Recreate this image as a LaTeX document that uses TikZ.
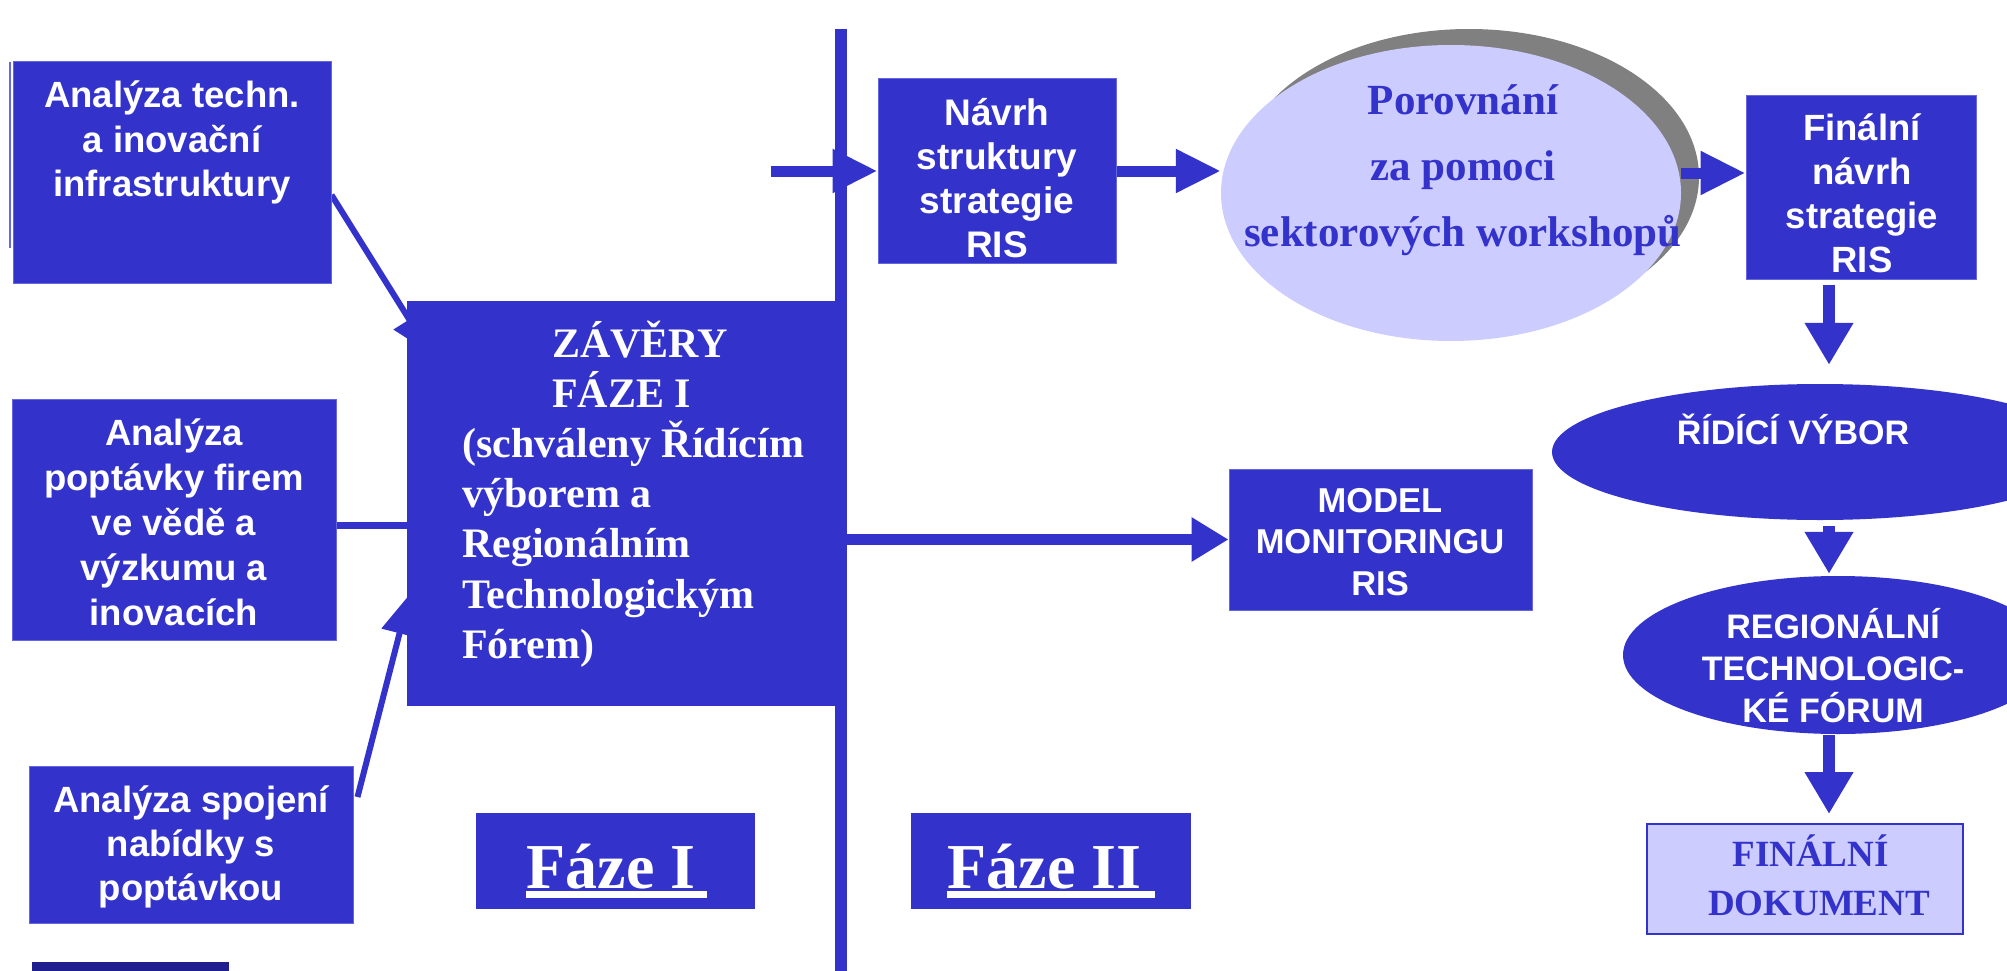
\documentclass[tikz,border=0pt]{standalone}
\usepackage{fontspec}
\setmainfont{Liberation Serif}
\setsansfont{Liberation Sans}
\usepackage{graphicx}
\usetikzlibrary{arrows.meta,calc,shapes.geometric}
\definecolor{myblue}{HTML}{3333CC}
\definecolor{lightb}{HTML}{CCCCFF}
\definecolor{edgeb}{HTML}{6666DD}
\definecolor{shadowg}{HTML}{808080}
\definecolor{darknavy}{HTML}{1F1F8F}
\newcommand\setfs[2]{\fontsize{#1}{#2}\selectfont}
\pgfdeclarelayer{bg}
\pgfsetlayers{bg,main}
\begin{document}
\begin{tikzpicture}[x=1pt,y=-1pt,
  bluebox/.style={rectangle,fill=myblue,draw=edgeb,line width=1pt,inner sep=0pt},
  stxt/.style={text=white,align=flush center,inner sep=0pt,anchor=base},
  rtxt/.style={align=flush center,inner sep=0pt,anchor=base},
  thinline/.style={draw=myblue,line width=6pt},
  barrow/.style={draw=myblue,line width=11pt,-{Triangle[length=45pt,width=41pt]}},
  marrow/.style={draw=myblue,line width=10.5pt,-{Triangle[length=37pt,width=42pt]}},
  darrow/.style={draw=myblue,line width=12pt,-{Triangle[length=42pt,width=46pt]}},
  oval/.style={ellipse,inner sep=0pt}]
\useasboundingbox (0,0) rectangle (2007,971);

% left column
\node[bluebox,minimum width=318pt,minimum height=221pt] (a1) at (172,172.5) {};
\node[bluebox,minimum width=324pt,minimum height=241pt] (a2) at (174,519.5) {};
\node[bluebox,minimum width=324pt,minimum height=157pt] (a3) at (191,844.5) {};
\node[rectangle,fill=darknavy,inner sep=0pt,minimum width=197pt,minimum height=20pt] (nb) at (130.5,972) {};
\coordinate (edgeA) at (10,62);
\coordinate (edgeB) at (10,248);
\draw[edgeb,line width=1.5pt] (edgeA) -- (edgeB);

\node[stxt,text width=318pt,font=\sffamily\bfseries\setfs{36.5}{44.5}] (a1t) at (172,108) {Analýza techn.\\a inovační\\infrastruktury};
\node[stxt,text width=324pt,font=\sffamily\bfseries\setfs{36.5}{45}] (a2t) at (174,445) {Analýza\\poptávky firem\\ve vědě a\\výzkumu a\\inovacích};
\node[stxt,text width=324pt,font=\sffamily\bfseries\setfs{36.5}{44}] (a3t) at (191,812) {Analýza spojení\\nabídky s\\poptávkou};

% centre box
\node[bluebox,draw=none,minimum width=431pt,minimum height=405pt] (zav) at (622.5,503.5) {};
\node[rtxt,text=white,text width=380pt,align=flush left,anchor=base west,font=\rmfamily\bfseries\setfs{42}{50.2}] (zavt) at (462,357)
  {\hspace*{90pt}ZÁVĚRY\\\hspace*{90pt}FÁZE I\\(schváleny Řídícím\\výborem a\\Regionálním\\Technologickým\\Fórem)};

\begin{pgfonlayer}{bg}
\fill[white] (0,0) rectangle (2007,971);
\draw[thinline,-{Triangle[length=40pt,width=36pt]}] ([yshift=-22.5pt]a1.east) -- ([xshift=24pt,yshift=-53pt]zav.north west);
\draw[thinline,line width=7pt] ([yshift=-5.5pt]a2.east) -- ([yshift=-5.5pt]a2.east -| zav.west);
\draw[thinline,-{Triangle[length=40pt,width=36pt]}] ([xshift=4pt,yshift=47.5pt]a3.east) -- ([xshift=3pt,yshift=-294pt]zav.north west);
\end{pgfonlayer}

% phase divider
\coordinate (vtop) at (841,29);
\coordinate (vbot) at (841,975);
\draw[myblue,line width=12pt] (vtop) -- (vbot);

% phase labels
\node[bluebox,draw=none,minimum width=279pt,minimum height=96pt] (f1) at (615.5,861) {};
\node[bluebox,draw=none,minimum width=280pt,minimum height=96pt] (f2) at (1051,861) {};
\node[rtxt,text=white,font=\rmfamily\bfseries\setfs{64}{64}] (f1t) at (611,888) {Fáze I};
\node[rtxt,text=white,font=\rmfamily\bfseries\setfs{64}{64}] (f2t) at (1044.5,888) {Fáze II};
\fill[white] (526,891) rectangle (707,898);
\fill[white] (947,891) rectangle (1155,898);

% phase II
\node[bluebox,minimum width=238pt,minimum height=184pt] (navrh) at (997,171) {};
\node[stxt,text width=238pt,font=\sffamily\bfseries\setfs{37}{44.3}] (navrht) at (997,125) {Návrh\\struktury\\strategie\\RIS};
\coordinate (inN) at (771,171);
\draw[barrow] (inN) -- (navrh.west);

\node[oval,fill=shadowg,minimum width=460pt,minimum height=296pt] (porovsh) at (1469,177) {};
\node[oval,fill=lightb,minimum width=460pt,minimum height=296pt] (porov) at (1451,193) {};
\node[rtxt,text=myblue,text width=460pt,font=\rmfamily\bfseries\setfs{43}{65.5}] (porovt) at (1463,115) {Porovnání\\za pomoci\\sektorových workshopů};
\draw[barrow] ([yshift=22pt]porov.west -| navrh.east) -- ([yshift=22pt]porov.west);

\node[bluebox,minimum width=230pt,minimum height=183pt] (final) at (1861,187.5) {};
\node[stxt,text width=230pt,font=\sffamily\bfseries\setfs{36.5}{44.3}] (finalt) at (1862,140) {Finální\\návrh\\strategie\\RIS};
\draw[barrow] ([yshift=20pt]porov.east) -- ([yshift=20pt]porov.east -| final.west);

\node[bluebox,minimum width=303pt,minimum height=141pt] (model) at (1380.5,539.5) {};
\node[stxt,text width=303pt,font=\sffamily\bfseries\setfs{34.5}{41.5}] (modelt) at (1380,512) {MODEL\\MONITORINGU\\RIS};
\draw[marrow] (zav.east |- model.west) -- (model.west);

\node[oval,fill=myblue,minimum width=536pt,minimum height=136pt] (ridici) at (1820,452) {};
\node[stxt,font=\sffamily\bfseries\setfs{34}{42}] (ridicit) at (1793,444) {ŘÍDÍCÍ VÝBOR};
\node[oval,fill=myblue,minimum width=430pt,minimum height=158pt] (rtf) at (1838,655) {};
\node[stxt,text width=400pt,font=\sffamily\bfseries\setfs{34}{42}] (rtft) at (1833,638) {REGIONÁLNÍ\\TECHNOLOGIC-\\KÉ FÓRUM};
\node[rectangle,fill=lightb,draw=myblue,line width=2pt,inner sep=0pt,minimum width=316pt,minimum height=110pt] (doc) at (1805,879) {};
\node[rtxt,text=myblue,text width=316pt,font=\rmfamily\bfseries\setfs{37}{49}] (doct) at (1810.5,866) {FINÁLNÍ\hspace*{17pt}\\\hspace*{17pt}DOKUMENT};

\draw[darrow] ([xshift=-32pt,yshift=-5pt]final.south) -- ([xshift=9pt,yshift=19pt]ridici.north);
\draw[darrow] ([xshift=9pt,yshift=-6pt]ridici.south) -- ([xshift=-9pt,yshift=2pt]rtf.north);
\draw[darrow] ([xshift=-9pt,yshift=-1pt]rtf.south) -- ([xshift=24pt,yshift=9pt]doc.north);
\end{tikzpicture}
\end{document}
